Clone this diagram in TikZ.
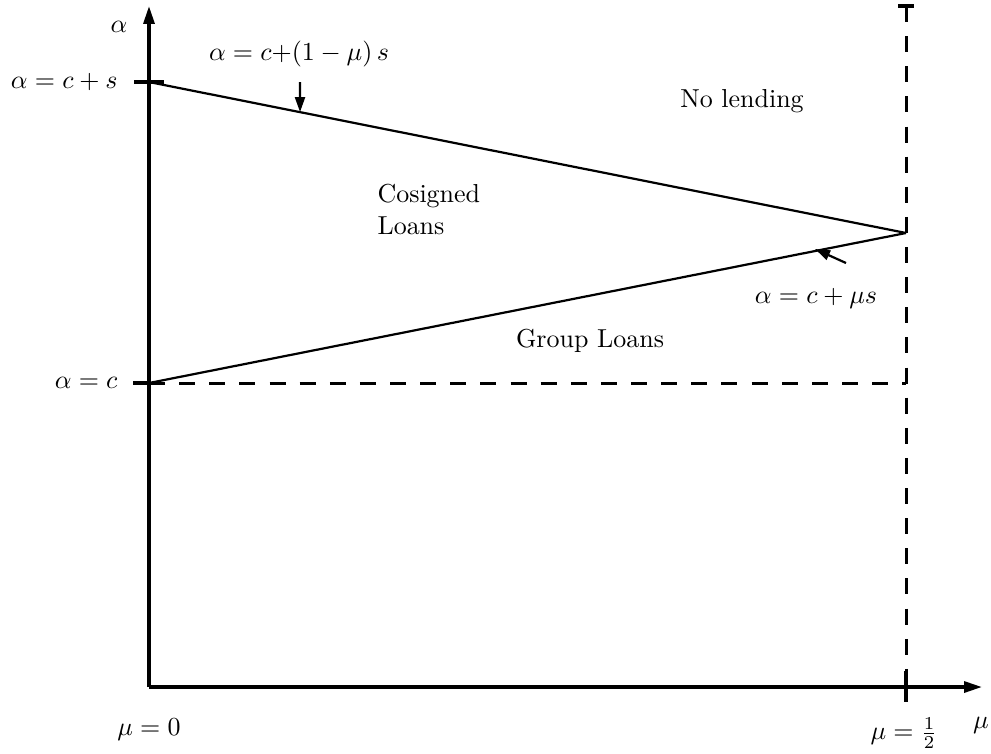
\documentclass[tikz,border=0pt]{standalone}
\usepackage{amsmath,amssymb}
\usepackage{tikz}
\usetikzlibrary{arrows.meta,calc,positioning}
\tikzset{
every picture/.style={line cap=butt,line join=round},
axis line/.style={draw=black, line width=1.27pt, -{Triangle[length=6.9pt,width=4.2pt]}},
tick line/.style={draw=black, line width=1.27pt},
bound line/.style={draw=black, line width=0.85pt},
bound dashed/.style={draw=black, line width=1.15pt, dash pattern=on 6.15pt off 5.45pt},
pointer/.style={draw=black, line width=0.85pt, -{Triangle[length=5.8pt,width=3.85pt]}},
fig label/.style={font=\normalsize, text=black, inner sep=0pt}
}
\begin{document}
\begin{tikzpicture}[x=0.385pt,y=-0.385pt]
\useasboundingbox (0,0) rectangle (991,753);
% axes
\coordinate (O) at (149,687);
\coordinate (ytop) at (149,6);
\coordinate (xend) at (982,687);
\draw[axis line] (O) -- (ytop);
\draw[axis line] (O) -- (xend);
% key points
\coordinate (Pcs) at (149,82);
\coordinate (Pc) at (149,383);
\coordinate (M) at (906,233);
\coordinate (Mtop) at (906,6);
\coordinate (Mbot) at (906,671);
\coordinate (Mend) at (906,702);
% ticks
\draw[tick line] (134,82) -- (164,82);
\draw[tick line] (133,383) -- (Pc);
\draw[tick line] (898,6) -- (914,6);
\draw[tick line] (Mbot) -- (Mend);
% boundaries
\draw[bound line] (Pcs) -- (M);
\draw[bound line] (Pc) -- (M);
\draw[bound dashed] (Pc) -- (906,383);
\draw[bound dashed] (Mtop) -- (Mbot);
% pointers
\coordinate (a1s) at (300,82);
\coordinate (a1e) at ($(Pcs)!0.1995!(M)$);
\coordinate (a2s) at (846,263);
\coordinate (a2e) at (815,249);
\draw[pointer] (a1s) -- (a1e);
\draw[pointer] (a2s) -- (a2e);
% labels
\node[fig label] (alab) at (119,27) {$\alpha$};
\node[fig label, anchor=base] (mulab) at (981,728) {$\mu$};
\node[fig label, anchor=east] (cslab) at (118,82) {$\alpha=c+s$};
\node[fig label, anchor=east] (clab) at (118,383) {$\alpha=c$};
\node[fig label, anchor=base] (mu0) at (149,735) {$\mu=0$};
\node[fig label] (muhalf) at (904,733) {$\mu=\frac{1}{2}$};
\node[fig label] (upper) at (299,54) {$\alpha=c{+}(1-\mu)\,s$};
\node[fig label] (lower) at (816,298) {$\alpha=c+\mu s$};
\node[fig label] (nolend) at (742,101) {No lending};
\node[fig label, anchor=north west, align=left] (cosign) at (377,184) {Cosigned\\Loans};
\node[fig label] (group) at (590,341) {Group Loans};
\end{tikzpicture}
\end{document}
